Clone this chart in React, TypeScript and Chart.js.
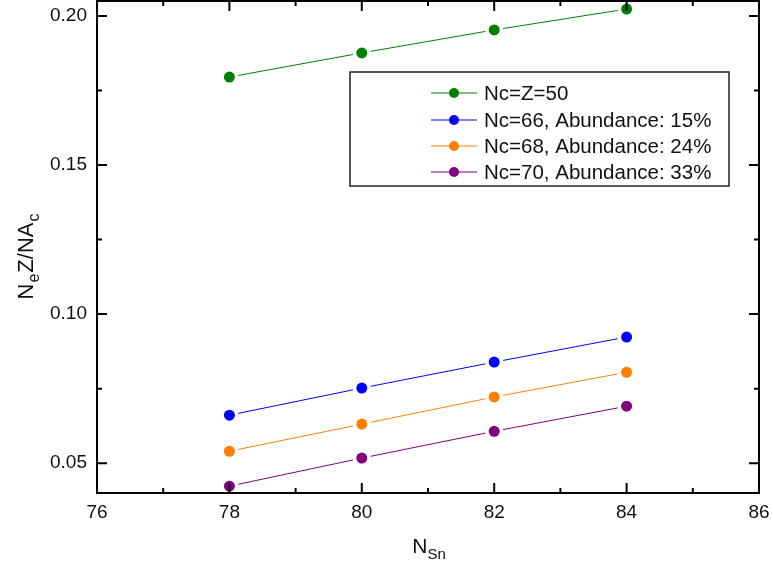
import React, { useEffect, useRef } from 'react';
import { Chart, registerables } from 'chart.js';

Chart.register(...registerables);

const xValues = [78, 80, 82, 84];
const seriesZ50 = [0.1795, 0.1876, 0.1953, 0.2023];
const seriesNc66 = [0.0661, 0.0752, 0.0839, 0.0923];
const seriesNc68 = [0.054, 0.0631, 0.0722, 0.0805];
const seriesNc70 = [0.0423, 0.0517, 0.0607, 0.0691];

const seriesLabels = [
  'Nc=Z=50',
  'Nc=66, Abundance: 15%',
  'Nc=68, Abundance: 24%',
  'Nc=70, Abundance: 33%',
];
const seriesColors = ['#008000', '#0000ff', '#ff8000', '#800080'];

const xTicks = [76, 78, 80, 82, 84, 86];
const xMinorTicks = [77, 79, 81, 83, 85];
const yTicks = [0.05, 0.1, 0.15, 0.2];
const yMinorTicks = [0.075, 0.125, 0.175];

const FONT = '"Liberation Sans", Arial, sans-serif';

const framePlugin = {
  id: 'frameAndExtras',
  beforeDatasetsDraw(chart: any) {
    const ctx = chart.ctx;
    chart.data.datasets.forEach((ds: any, di: number) => {
      const meta = chart.getDatasetMeta(di);
      const pts = meta.data;
      ctx.save();
      ctx.strokeStyle = ds.borderColor;
      ctx.lineWidth = 1;
      for (let i = 0; i < pts.length - 1; i++) {
        const a = pts[i];
        const b = pts[i + 1];
        const dx = b.x - a.x;
        const dy = b.y - a.y;
        const len = Math.sqrt(dx * dx + dy * dy);
        const gap = 9;
        if (len <= gap * 2) continue;
        const ux = dx / len;
        const uy = dy / len;
        ctx.beginPath();
        ctx.moveTo(a.x + ux * gap, a.y + uy * gap);
        ctx.lineTo(b.x - ux * gap, b.y - uy * gap);
        ctx.stroke();
      }
      ctx.restore();
    });
  },
  afterDraw(chart: any) {
    const ctx = chart.ctx;
    const { left, right, top, bottom } = chart.chartArea;
    const xs = chart.scales.x;
    const ys = chart.scales.y;
    ctx.save();
    ctx.strokeStyle = '#000';
    ctx.lineWidth = 2;
    ctx.strokeRect(left, top, right - left, bottom - top);
    const major = 10;
    const minor = 5;
    ctx.lineWidth = 2;
    ctx.beginPath();
    xTicks.forEach((v) => {
      const px = xs.getPixelForValue(v);
      ctx.moveTo(px, bottom);
      ctx.lineTo(px, bottom - major);
      ctx.moveTo(px, top);
      ctx.lineTo(px, top + major);
    });
    xMinorTicks.forEach((v) => {
      const px = xs.getPixelForValue(v);
      ctx.moveTo(px, bottom);
      ctx.lineTo(px, bottom - minor);
      ctx.moveTo(px, top);
      ctx.lineTo(px, top + minor);
    });
    yTicks.forEach((v) => {
      const py = ys.getPixelForValue(v);
      ctx.moveTo(left, py);
      ctx.lineTo(left + major, py);
      ctx.moveTo(right, py);
      ctx.lineTo(right - major, py);
    });
    yMinorTicks.forEach((v) => {
      const py = ys.getPixelForValue(v);
      ctx.moveTo(left, py);
      ctx.lineTo(left + minor, py);
      ctx.moveTo(right, py);
      ctx.lineTo(right - minor, py);
    });
    ctx.stroke();

    // Legend box
    const bx = 350;
    const by = 72;
    const bw = 379;
    const bh = 114;
    ctx.fillStyle = '#fff';
    ctx.fillRect(bx, by, bw, bh);
    ctx.lineWidth = 1.5;
    ctx.strokeStyle = '#222';
    ctx.strokeRect(bx, by, bw, bh);
    const rowY = [93, 120, 146, 172];
    ctx.font = `20.5px ${FONT}`;
    ctx.textBaseline = 'middle';
    ctx.textAlign = 'left';
    seriesLabels.forEach((lab, i) => {
      const y = rowY[i];
      ctx.strokeStyle = seriesColors[i];
      ctx.lineWidth = 1;
      ctx.beginPath();
      ctx.moveTo(431, y);
      ctx.lineTo(477, y);
      ctx.stroke();
      ctx.fillStyle = seriesColors[i];
      ctx.beginPath();
      ctx.arc(454, y, 5, 0, Math.PI * 2);
      ctx.fill();
      ctx.fillStyle = '#111';
      ctx.fillText(lab, 484, y + 1);
    });

    // Axis titles
    ctx.fillStyle = '#111';
    ctx.textBaseline = 'alphabetic';
    ctx.textAlign = 'left';
    const big = `21px ${FONT}`;
    const small = `15px ${FONT}`;
    ctx.font = big;
    const wN = ctx.measureText('N').width;
    ctx.font = small;
    const wSn = ctx.measureText('Sn').width;
    const xStart = (left + right) / 2 - (wN + wSn) / 2 + 1;
    ctx.font = big;
    ctx.fillText('N', xStart, 553);
    ctx.font = small;
    ctx.fillText('Sn', xStart + wN, 559);

    const yBig = `22px ${FONT}`;
    const ySmall = `16px ${FONT}`;
    const parts = [
      { t: 'N', sub: false },
      { t: 'e', sub: true },
      { t: 'Z/NA', sub: false },
      { t: 'c', sub: true },
    ];
    let total = 0;
    const widths = parts.map((p) => {
      ctx.font = p.sub ? ySmall : yBig;
      const w = ctx.measureText(p.t).width + 1;
      total += w;
      return w;
    });
    ctx.translate(33, 256 + total / 2);
    ctx.rotate(-Math.PI / 2);
    let cx = 0;
    parts.forEach((p, i) => {
      ctx.font = p.sub ? ySmall : yBig;
      ctx.fillText(p.t, cx, p.sub ? 6 : 0);
      cx += widths[i];
    });
    ctx.restore();
  },
};

export default function App() {
  const ref = useRef<HTMLCanvasElement | null>(null);

  useEffect(() => {
    document.body.style.margin = '0';
    const canvas = ref.current;
    if (!canvas) return;
    const series = [seriesZ50, seriesNc66, seriesNc68, seriesNc70];
    const chart = new Chart(canvas, {
      type: 'line',
      data: {
        datasets: series.map((vals, i) => ({
          label: seriesLabels[i],
          data: xValues.map((x, j) => ({ x, y: vals[j] })),
          borderColor: seriesColors[i],
          backgroundColor: seriesColors[i],
          pointBackgroundColor: seriesColors[i],
          pointBorderColor: seriesColors[i],
          pointRadius: 5.5,
          pointBorderWidth: 0,
          showLine: false,
          clip: false as any,
        })),
      },
      options: {
        animation: false,
        responsive: false,
        maintainAspectRatio: false,
        events: [],
        layout: { autoPadding: false, padding: { top: 1, right: 14, left: 0, bottom: 0 } },
        plugins: {
          legend: { display: false },
          tooltip: { enabled: false },
        },
        scales: {
          x: {
            type: 'linear',
            min: 76,
            max: 86,
            grid: { display: false, drawTicks: false },
            border: { display: false },
            afterBuildTicks: (scale: any) => {
              scale.ticks = xTicks.map((v) => ({ value: v }));
            },
            afterFit: (scale: any) => {
              scale.height = 77;
              scale.paddingLeft = 0;
              scale.paddingRight = 0;
            },
            ticks: {
              padding: 8,
              color: '#111',
              font: { family: FONT, size: 19 },
              maxRotation: 0,
              callback: (v: any) => String(v),
            },
          },
          y: {
            type: 'linear',
            min: 0.04,
            max: 0.205,
            grid: { display: false, drawTicks: false },
            border: { display: false },
            afterBuildTicks: (scale: any) => {
              scale.ticks = yTicks.map((v) => ({ value: v }));
            },
            afterFit: (scale: any) => {
              scale.width = 97;
              scale.paddingTop = 0;
              scale.paddingBottom = 0;
            },
            ticks: {
              padding: 10,
              color: '#111',
              font: { family: FONT, size: 19 },
              callback: (v: any) => Number(v).toFixed(2),
            },
          },
        },
      },
      plugins: [framePlugin],
    } as any);
    return () => chart.destroy();
  }, []);

  return (
    <div style={{ position: 'absolute', left: 0, top: 0, width: 773, height: 570, background: '#fff' }}>
      <canvas ref={ref} width={773} height={570} style={{ width: 773, height: 570, display: 'block' }} />
    </div>
  );
}
